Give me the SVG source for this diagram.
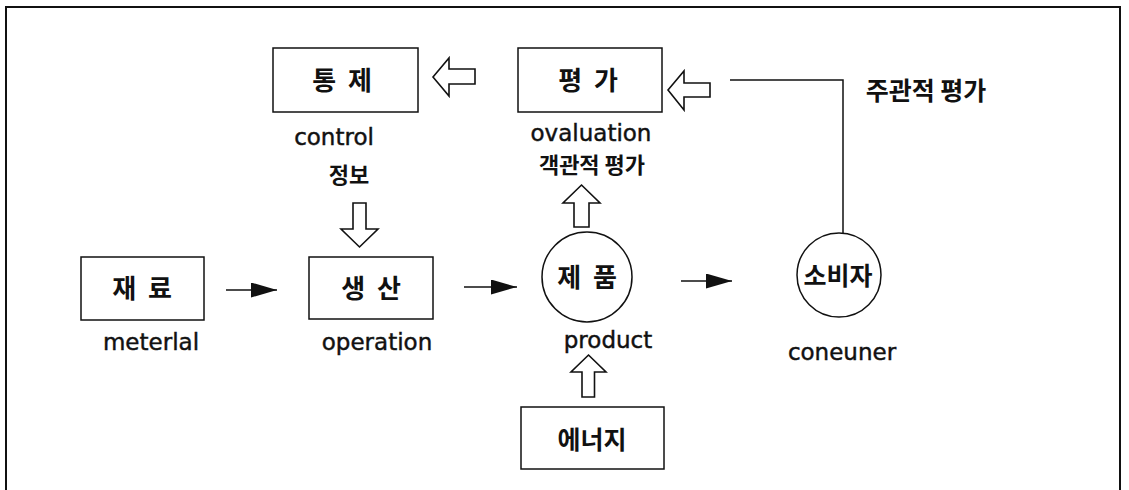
<svg xmlns="http://www.w3.org/2000/svg" width="1129" height="490" viewBox="0 0 1129 490">
  <style>
    .box { fill: #fff; stroke: #111; stroke-width: 1.5; }
    .blk { fill: #fff; stroke: #111; stroke-width: 1.6; stroke-linejoin: miter; }
    .ln { fill: none; stroke: #111; stroke-width: 1.5; }
    .ko { font-family: "Noto Sans CJK KR", "Noto Sans", sans-serif; font-weight: bold; fill: #111; text-anchor: middle; }
    .kob { font-size: 26px; word-spacing: 6px; }
    .kos { font-size: 22px; font-weight: 600; }
    .en { font-family: "DejaVu Sans", "Liberation Sans", sans-serif; font-size: 23px; fill: #111; stroke: #111; stroke-width: 0.45; text-anchor: middle; }
  </style>
  <defs>
    <marker id="ah" markerUnits="userSpaceOnUse" markerWidth="27" markerHeight="15" refX="26" refY="7.5" orient="auto">
      <path d="M0,0 L26,7.5 L0,15 Z" fill="#111"/>
    </marker>
  </defs>

  <rect id="frame" x="6" y="7" width="1114" height="500" fill="none" stroke="#111" stroke-width="2"/>

  <g id="connectors">
    <line class="ln" x1="226" y1="290" x2="277" y2="290" marker-end="url(#ah)"/>
    <line class="ln" x1="464" y1="287" x2="517" y2="287" marker-end="url(#ah)"/>
    <line class="ln" x1="681" y1="281" x2="732" y2="281" marker-end="url(#ah)"/>
    <polyline class="ln" points="730,80 843,80 843,233"/>
    <polygon class="blk" points="433,77 449,58 449,69 475,69 475,84 449,84 449,96"/>
    <polygon class="blk" points="668,90 684,71 684,83 710,83 710,97 684,97 684,110"/>
    <polygon class="blk" points="353,203 366,203 366,229 378,229 359.5,247 341,229 353,229"/>
    <polygon class="blk" points="581.5,185 600,203 589,203 589,227 574,227 574,203 563,203"/>
    <polygon class="blk" points="588.5,355 606,372 594.5,372 594.5,397 582,397 582,372 571,372"/>
  </g>

  <g id="control">
    <rect class="box" x="273" y="48" width="145" height="64"/>
    <text class="ko kob" x="342" y="90">통 제</text>
    <text class="en" x="334" y="145">control</text>
    <text class="ko kos" x="349" y="183">정보</text>
  </g>

  <g id="evaluation">
    <rect class="box" x="518" y="48" width="144" height="64"/>
    <text class="ko kob" x="588" y="90">평 가</text>
    <text class="en" x="591" y="141">ovaluation</text>
    <text class="ko kos" x="592" y="173">객관적 평가</text>
  </g>

  <g id="subjective">
    <text class="ko" x="926" y="100" style="font-size:25px">주관적 평가</text>
  </g>

  <g id="material">
    <rect class="box" x="81" y="257" width="123" height="63"/>
    <text class="ko kob" x="142" y="298">재 료</text>
    <text class="en" x="151" y="350">meterlal</text>
  </g>

  <g id="operation">
    <rect class="box" x="309" y="257" width="124" height="62"/>
    <text class="ko kob" x="371" y="298">생 산</text>
    <text class="en" x="377" y="350">operation</text>
  </g>

  <g id="product">
    <circle class="box" cx="587" cy="277" r="45"/>
    <text class="ko kob" x="587" y="287">제 품</text>
    <text class="en" x="608" y="348">product</text>
  </g>

  <g id="consumer">
    <circle class="box" cx="839" cy="275" r="42"/>
    <text class="ko" x="838" y="285" style="font-size:25px">소비자</text>
    <text class="en" x="842" y="360">coneuner</text>
  </g>

  <g id="energy">
    <rect class="box" x="521" y="407" width="143" height="62"/>
    <text class="ko" x="592" y="449" style="font-size:25px">에너지</text>
  </g>
</svg>
